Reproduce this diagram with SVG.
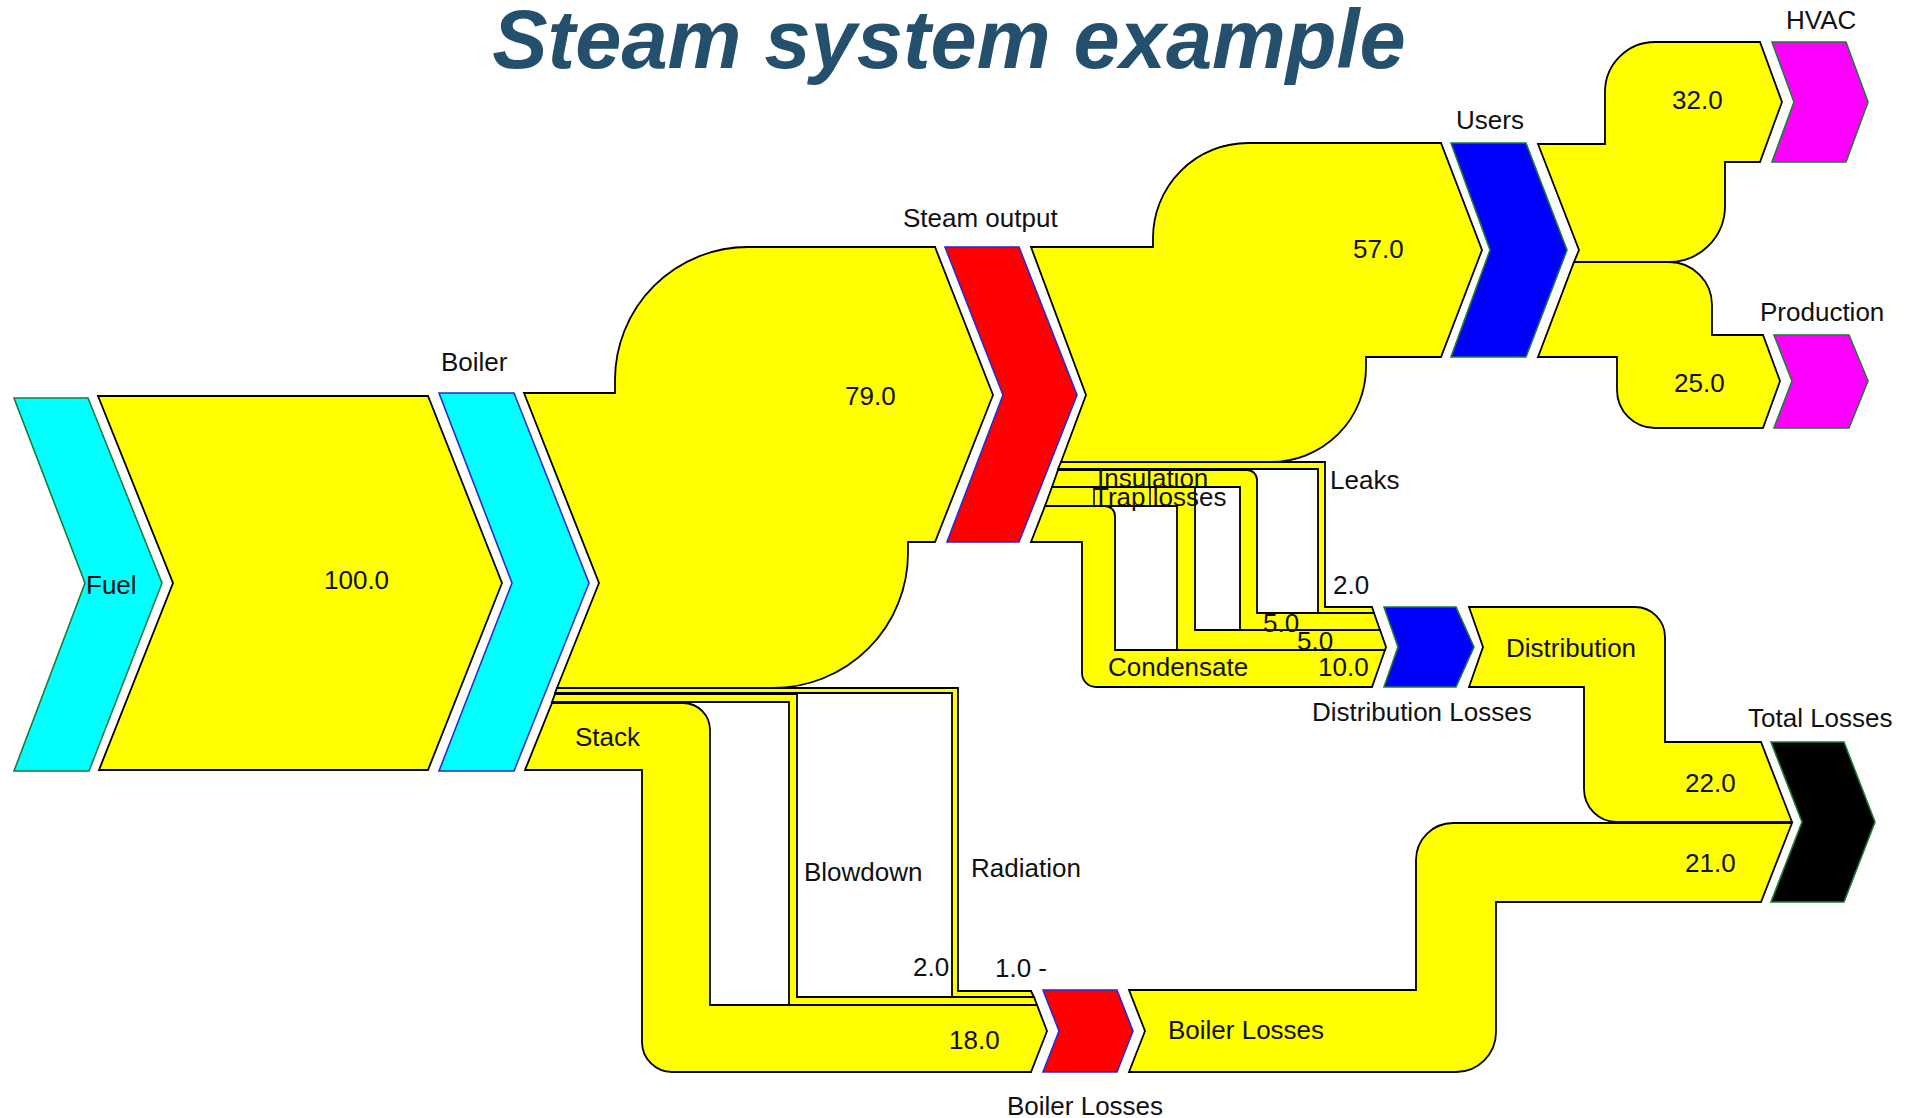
<svg xmlns="http://www.w3.org/2000/svg" width="1919" height="1118" viewBox="0 0 1919 1118">
<style>
.flow{fill:#ffff00;stroke:#000;stroke-width:1.8;stroke-linejoin:miter}
.lbl{font-family:"Liberation Sans",Arial,sans-serif;font-size:26px;fill:#111}
.node{stroke-width:1.6;stroke-linejoin:miter}
.g{stroke:#1f7a3a}
.b{stroke:#2a2ad0}
.sep{stroke:#000;stroke-width:1.6}
</style>
<rect width="1919" height="1118" fill="#fff"/>
<text x="949" y="68" text-anchor="middle" font-family="'Liberation Sans',Arial,sans-serif" font-size="83" font-weight="bold" font-style="italic" fill="#24506e">Steam system example</text>

<g id="connectors">
  <path id="f-fuel-boiler" class="flow" d="M98,396 L428,396 L502,583 L428,770 L99,770 L173,583 Z"/>
  <path id="f-stack" class="flow" d="M552,703 L683,703 A27,27 0 0 1 710,730 L710,1005 L1037,1005 L1047,1031 L1031,1072 L672,1072 A30,30 0 0 1 642,1042 L642,770 L525,770 Z"/>
  <path id="f-blowdown" class="flow" d="M555,694 L797,694 L797,997 L1034,997 L1037,1005 L789,1005 L789,702 L552,702 Z"/>
  <path id="f-radiation" class="flow" d="M557,688 L958,688 L958,991 L1031,991 L1034,997 L952,997 L952,693 L555,693 Z"/>
  <path id="f-steam" class="flow" d="M524,393 L615,393 L615,380 A133,133 0 0 1 748,247 L935,247 L993,395 L935,542 L908,542 L908,553 A135,135 0 0 1 773,688 L557,688 L599,583 Z"/>
  <path id="f-condensate" class="flow" d="M1045,506 L1105,506 A10,10 0 0 1 1115,516 L1115,650 L1385,650 L1372,687 L1096,687 A14,14 0 0 1 1082,673 L1082,542 L1031,542 Z"/>
  <path id="f-trap" class="flow" d="M1052,487 L1195,487 L1195,630 L1380,630 L1386,647 L1385,650 L1177,650 L1177,506 L1045,506 Z"/>
  <path id="f-insulation" class="flow" d="M1058,470 L1247,470 A10,10 0 0 1 1257,480 L1257,613 L1374,613 L1380,630 L1240,630 L1240,487 L1052,487 Z"/>
  <path id="f-leaks" class="flow" d="M1061,462 L1325,462 L1325,607 L1372,607 L1374,613 L1318,613 L1318,469 L1058,469 Z"/>
  <path id="f-users" class="flow" d="M1031,247 L1153,247 L1153,238 A95,95 0 0 1 1248,143 L1441,143 L1482,250 L1441,357 L1366,357 L1366,367 A95,95 0 0 1 1271,462 L1061,462 L1086,395 Z"/>
  <path id="f-hvac" class="flow" d="M1538,144 L1605,144 L1605,92 A50,50 0 0 1 1655,42 L1760,42 L1782,102 L1760,162 L1725,162 L1725,206 A56,56 0 0 1 1669,262 L1574,262 L1579,250 Z"/>
  <path id="f-production" class="flow" d="M1574,262 L1669,262 A43,43 0 0 1 1712,305 L1712,335 L1763,335 L1780,381 L1763,428 L1655,428 A38,38 0 0 1 1617,390 L1617,357 L1538,357 Z"/>
  <path id="f-distribution" class="flow" d="M1469,607 L1635,607 A30,30 0 0 1 1665,637 L1665,742 L1761,742 L1792,822 L1617,822 A33,33 0 0 1 1584,789 L1584,687 L1469,687 L1483,647 Z"/>
  <path id="f-boilerlosses" class="flow" d="M1129,990 L1416,990 L1416,860 A37,37 0 0 1 1453,823 L1792,823 L1761,902 L1496,902 L1496,1032 A40,40 0 0 1 1456,1072 L1129,1072 L1145,1031 Z"/>
  <line class="sep" x1="1094" y1="487" x2="1094" y2="506"/>
  <line class="sep" x1="1150" y1="487" x2="1150" y2="506"/>

  <text class="lbl" x="324" y="589">100.0</text>
  <text class="lbl" x="845" y="405">79.0</text>
  <text class="lbl" x="1353" y="258">57.0</text>
  <text class="lbl" x="1672" y="109">32.0</text>
  <text class="lbl" x="1674" y="392">25.0</text>
  <text class="lbl" x="1330" y="489">Leaks</text>
  <text class="lbl" x="1097" y="487">Insulation</text>
  <text class="lbl" x="1093" y="506">Trap losses</text>
  <text class="lbl" x="1333" y="594">2.0</text>
  <text class="lbl" x="1263" y="632">5.0</text>
  <text class="lbl" x="1297" y="650">5.0</text>
  <text class="lbl" x="1318" y="676">10.0</text>
  <text class="lbl" x="1108" y="676">Condensate</text>
  <text class="lbl" x="1506" y="657">Distribution</text>
  <text class="lbl" x="1685" y="792">22.0</text>
  <text class="lbl" x="1685" y="872">21.0</text>
  <text class="lbl" x="1168" y="1039">Boiler Losses</text>
  <text class="lbl" x="949" y="1049">18.0</text>
  <text class="lbl" x="804" y="881">Blowdown</text>
  <text class="lbl" x="971" y="877">Radiation</text>
  <text class="lbl" x="913" y="976">2.0</text>
  <text class="lbl" x="995" y="977">1.0 -</text>
  <text class="lbl" x="575" y="746">Stack</text>
</g>

<g id="node-fuel">
  <polygon class="node g" fill="#00ffff" points="14,398 88,398 162,583 89,771 14,771 85,583"/>
  <text class="lbl" x="86" y="594">Fuel</text>
</g>
<g id="node-boiler">
  <polygon class="node b" fill="#00ffff" points="439,393 514,393 589,583 514,771 439,771 512,583"/>
  <text class="lbl" x="441" y="371">Boiler</text>
</g>
<g id="node-steam-output">
  <polygon class="node b" fill="#ff0000" points="945,247 1019,247 1077,395 1019,542 947,542 1003,395"/>
  <text class="lbl" x="903" y="227">Steam output</text>
</g>
<g id="node-users">
  <polygon class="node g" fill="#0000ff" points="1451,143 1526,143 1567,250 1526,357 1451,357 1490,250"/>
  <text class="lbl" x="1456" y="129">Users</text>
</g>
<g id="node-hvac">
  <polygon class="node g" fill="#ff00ff" points="1772,42 1846,42 1868,102 1846,162 1772,162 1794,102"/>
  <text class="lbl" x="1786" y="29">HVAC</text>
</g>
<g id="node-production">
  <polygon class="node g" fill="#ff00ff" points="1774,335 1849,335 1868,381 1849,428 1774,428 1792,381"/>
  <text class="lbl" x="1760" y="321">Production</text>
</g>
<g id="node-distribution-losses">
  <polygon class="node g" fill="#0000ff" points="1384,607 1456,607 1474,647 1456,687 1384,687 1398,647"/>
  <text class="lbl" x="1312" y="721">Distribution Losses</text>
</g>
<g id="node-total-losses">
  <polygon class="node g" fill="#000000" points="1771,742 1844,742 1875,822 1844,902 1771,902 1802,822"/>
  <text class="lbl" x="1748" y="727">Total Losses</text>
</g>
<g id="node-boiler-losses">
  <polygon class="node b" fill="#ff0000" points="1043,990 1117,990 1133,1031 1117,1072 1043,1072 1059,1031"/>
  <text class="lbl" x="1007" y="1115">Boiler Losses</text>
</g>
</svg>
